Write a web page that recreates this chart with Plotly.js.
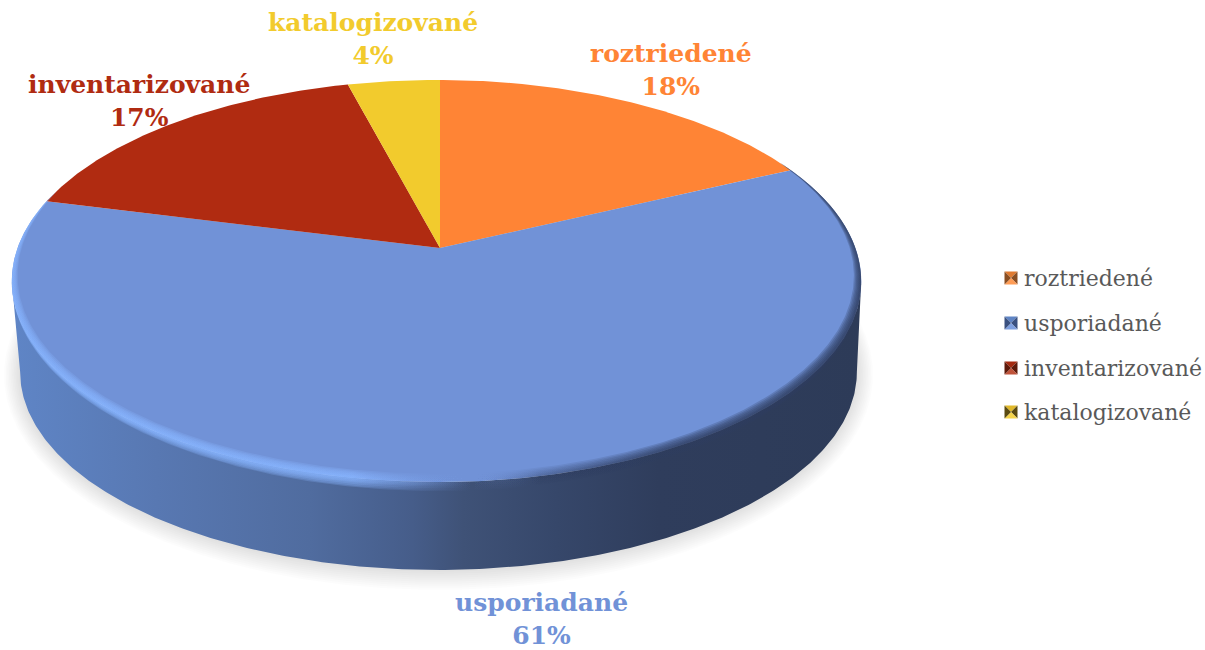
<!DOCTYPE html>
<html>
<head>
<meta charset="utf-8">
<script src="https://cdn.plot.ly/plotly-3.0.1.min.js"></script>
<style>html,body{margin:0;padding:0;background:#fff}</style>
</head>
<body>
<div id="chart" style="width:1205px;height:650px"></div>
<script>
// --- chart values ---
const categories = ['roztriedené', 'usporiadané', 'inventarizované', 'katalogizované'];
const values = [18, 61, 17, 4];
const sliceColors = ['#FF8435', '#7192D7', '#B02B11', '#F2CB2D'];
const labelColors = ['#FF8435', '#7192D7', '#B02B11', '#F2CB2D'];
const swatchLight = ['#FF9C55', '#7EA0E0', '#C0533A', '#F5D44A'];
const swatchTop = ['#E07A30', '#5F84C4', '#A52A10', '#E0B82A'];
const swatchDark = ['#8A4E22', '#3A5180', '#5E1A0A', '#5A4A10'];

// --- presentation: where the labels and legend sit, in pixels ---
const labelCentres = [[671, 70], [541, 619], [139, 101], [373, 39]];
const legendRows = [278, 323, 368, 412];
const legendSwatchX = 1011, legendTextX = 1024;
const serif = '"DejaVu Serif", serif';

// --- perspective projection of the tilted disc ---
const CX = 440, CY = 248, RX = 419, RY = 195.6, PERSP = 0.164;
const BOTTOM_SCALE = 0.985, BOTTOM_CX = 438.5, BOTTOM_CY = 339.5;
const rad = d => d * Math.PI / 180;
function project(deg, r = 1, scaleX = 1, scaleY = 1, cx = CX, cy = CY) {
  const u = r * Math.sin(rad(deg)), v = r * Math.cos(rad(deg)), w = 1 + PERSP * v;
  const lean = cx === CX ? -3.5 * (1 - Math.pow(Math.abs(v), 32)) : 0;
  return [cx + lean + scaleX * RX * u / w, cy - scaleY * RY * v / w];
}
function arc(from, to, fn) {
  const n = Math.max(2, Math.ceil(Math.abs(to - from) * 2));
  const pts = [];
  for (let i = 0; i <= n; i++) pts.push(fn(from + (to - from) * i / n));
  return pts;
}
function poly(pts, extra) {
  return Object.assign({
    type: 'scatter', mode: 'lines', x: pts.map(p => p[0]), y: pts.map(p => p[1]),
    fill: 'toself', line: {width: 0}, hoverinfo: 'skip', showlegend: false
  }, extra);
}
const traces = [];

// soft shadow under the disc
for (let i = 10; i >= 1; i--) {
  const sx = BOTTOM_SCALE + i * 1.6 / RX, sy = BOTTOM_SCALE + i * 2.0 / 234;
  traces.push(poly(arc(0, 360, d => project(d, 1, sx, sy, BOTTOM_CX, BOTTOM_CY)),
    {fillcolor: 'rgba(0,0,0,0.013)'}));
}

// side wall with its lighting
const T1 = 99.4, T2 = 260.6;
const wall = arc(T1, T2, d => project(d)).concat(
  arc(T2, T1, d => project(d, 1, BOTTOM_SCALE, BOTTOM_SCALE, BOTTOM_CX, BOTTOM_CY)));
traces.push(poly(wall, {
  fillcolor: '#465d8a',
  fillgradient: {
    type: 'horizontal', start: 12, stop: 863,
    colorscale: [[0, '#5F85C6'], [0.17, '#5878B2'], [0.35, '#506C9F'], [0.47, '#465D8A'],
                 [0.53, '#3F5277'], [0.64, '#36476A'], [0.76, '#2F3D5C'], [1, '#2D3B58']]
  }
}));

// top face: one wedge per value, clockwise from 12 o'clock
const total = values.reduce((a, b) => a + b, 0);
let cum = 0;
values.forEach((val, i) => {
  const a0 = cum / total * 360, a1 = (cum + val) / total * 360;
  cum += val;
  const pts = [[CX, CY]].concat(arc(a0, a1, d => project(d)), [[CX, CY]]);
  traces.push(poly(pts, {fillcolor: sliceColors[i], name: categories[i]}));
});

// bevel along the front rim
const B0 = 62, B1 = 288;
const taper = d => Math.pow(Math.sin(Math.PI * (d - B0) / (B1 - B0)), 0.8);
[[0.030, 8], [0.025, 7], [0.020, 5.5], [0.015, 4], [0.010, 3], [0.006, 1.8]].forEach(([inner, outer]) => {
  const band = arc(B0, B1, d => project(d, 1 - inner * taper(d))).concat(
    arc(B1, B0, d => {
      const p = project(d);
      return [p[0], p[1] + outer * taper(d) * Math.max(0, -Math.cos(rad(d)) + 0.15)];
    }));
  traces.push(poly(band, {
    fillcolor: 'rgba(0,0,0,0)',
    fillgradient: {
      type: 'horizontal', start: 12, stop: 863,
      colorscale: [[0, 'rgba(135,180,255,0.26)'], [0.40, 'rgba(135,180,255,0.26)'],
                   [0.54, 'rgba(113,146,215,0)'], [0.62, 'rgba(45,60,95,0.08)'],
                   [0.78, 'rgba(45,60,95,0.24)'], [1, 'rgba(45,60,95,0.26)']]
    }
  }));
});

// legend: bevelled swatches and names
categories.forEach((name, i) => {
  const y = legendRows[i], h = 6.5, xc = legendSwatchX;
  const c = [xc, y];
  const TL = [xc - h, y - h], TR = [xc + h, y - h], BR = [xc + h, y + h], BL = [xc - h, y + h];
  [[TL, TR, swatchTop[i]], [TR, BR, swatchDark[i]], [BR, BL, swatchLight[i]], [BL, TL, swatchDark[i]]]
    .forEach(([a, b, col]) => traces.push(poly([a, b, c, a], {fillcolor: col})));
});

const annotations = categories.map((name, i) => ({
  x: labelCentres[i][0], y: labelCentres[i][1], xref: 'x', yref: 'y',
  text: '<b>' + name + '<br>' + values[i] + '%</b>', showarrow: false,
  xanchor: 'center', yanchor: 'middle', align: 'center',
  font: {family: serif, size: 25, color: labelColors[i]}
})).concat(categories.map((name, i) => ({
  x: legendTextX, y: legendRows[i], xref: 'x', yref: 'y', text: name, showarrow: false,
  xanchor: 'left', yanchor: 'middle', xshift: -2,
  font: {family: serif, size: 22, color: '#595959'}
})));

Plotly.newPlot('chart', traces, {
  width: 1205, height: 650, autosize: false,
  margin: {l: 0, r: 0, t: 0, b: 0},
  paper_bgcolor: '#fff', plot_bgcolor: '#fff', showlegend: false,
  xaxis: {range: [0, 1205], visible: false, fixedrange: true},
  yaxis: {range: [650, 0], visible: false, fixedrange: true},
  annotations
}, {displayModeBar: false, staticPlot: true});
</script>
</body>
</html>
